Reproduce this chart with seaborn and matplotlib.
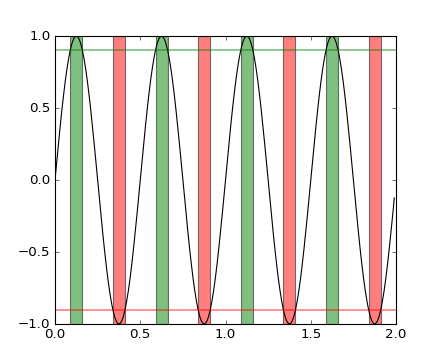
import numpy as np
import pandas as pd
import matplotlib
matplotlib.use("Agg")
import matplotlib.pyplot as plt
import seaborn as sns

plt.style.use("classic")

# Curve samples (t from 0.00 to 1.99, step 0.01)
period = [0.000, 0.125, 0.249, 0.368, 0.482, 0.588, 0.685, 0.771, 0.844, 0.905,
          0.951, 0.982, 0.998, 0.998, 0.982, 0.951, 0.905, 0.844, 0.771, 0.685,
          0.588, 0.482, 0.368, 0.249, 0.125, 0.000, -0.125, -0.249, -0.368, -0.482,
          -0.588, -0.685, -0.771, -0.844, -0.905, -0.951, -0.982, -0.998, -0.998, -0.982,
          -0.951, -0.905, -0.844, -0.771, -0.685, -0.588, -0.482, -0.368, -0.249, -0.125]
t_values = [round(0.01 * i, 2) for i in range(200)]
s_values = period * 4
upper_level = 0.9
lower_level = -0.9

df = pd.DataFrame({"t": t_values, "s": s_values})

fig = plt.figure(figsize=(5.5, 4.5), dpi=80)
ax = fig.add_subplot(111)

sns.lineplot(data=df, x="t", y="s", color="black", lw=1, ax=ax, estimator=None)

t = np.array(t_values)
s = np.array(s_values)

def spans(mask):
    out = []
    start = None
    for i, m in enumerate(mask):
        if m and start is None:
            start = i
        if not m and start is not None:
            out.append((t[start], t[i - 1]))
            start = None
    if start is not None:
        out.append((t[start], t[-1]))
    return out

for a, b in spans(s > upper_level):
    ax.axvspan(a, b, facecolor="green", edgecolor="black", alpha=0.5)
for a, b in spans(s < lower_level):
    ax.axvspan(a, b, facecolor="red", edgecolor="black", alpha=0.5)

ax.axhline(upper_level, color="green", alpha=0.5, lw=1.5)
ax.axhline(lower_level, color="red", alpha=0.5, lw=1.5)

ax.set_xlim(0, 2)
ax.set_ylim(-1, 1)
ax.set_xticks([0.0, 0.5, 1.0, 1.5, 2.0])
ax.set_yticks([-1.0, -0.5, 0.0, 0.5, 1.0])
ax.set_xlabel("")
ax.set_ylabel("")

fig.savefig("out.png", dpi=80)
